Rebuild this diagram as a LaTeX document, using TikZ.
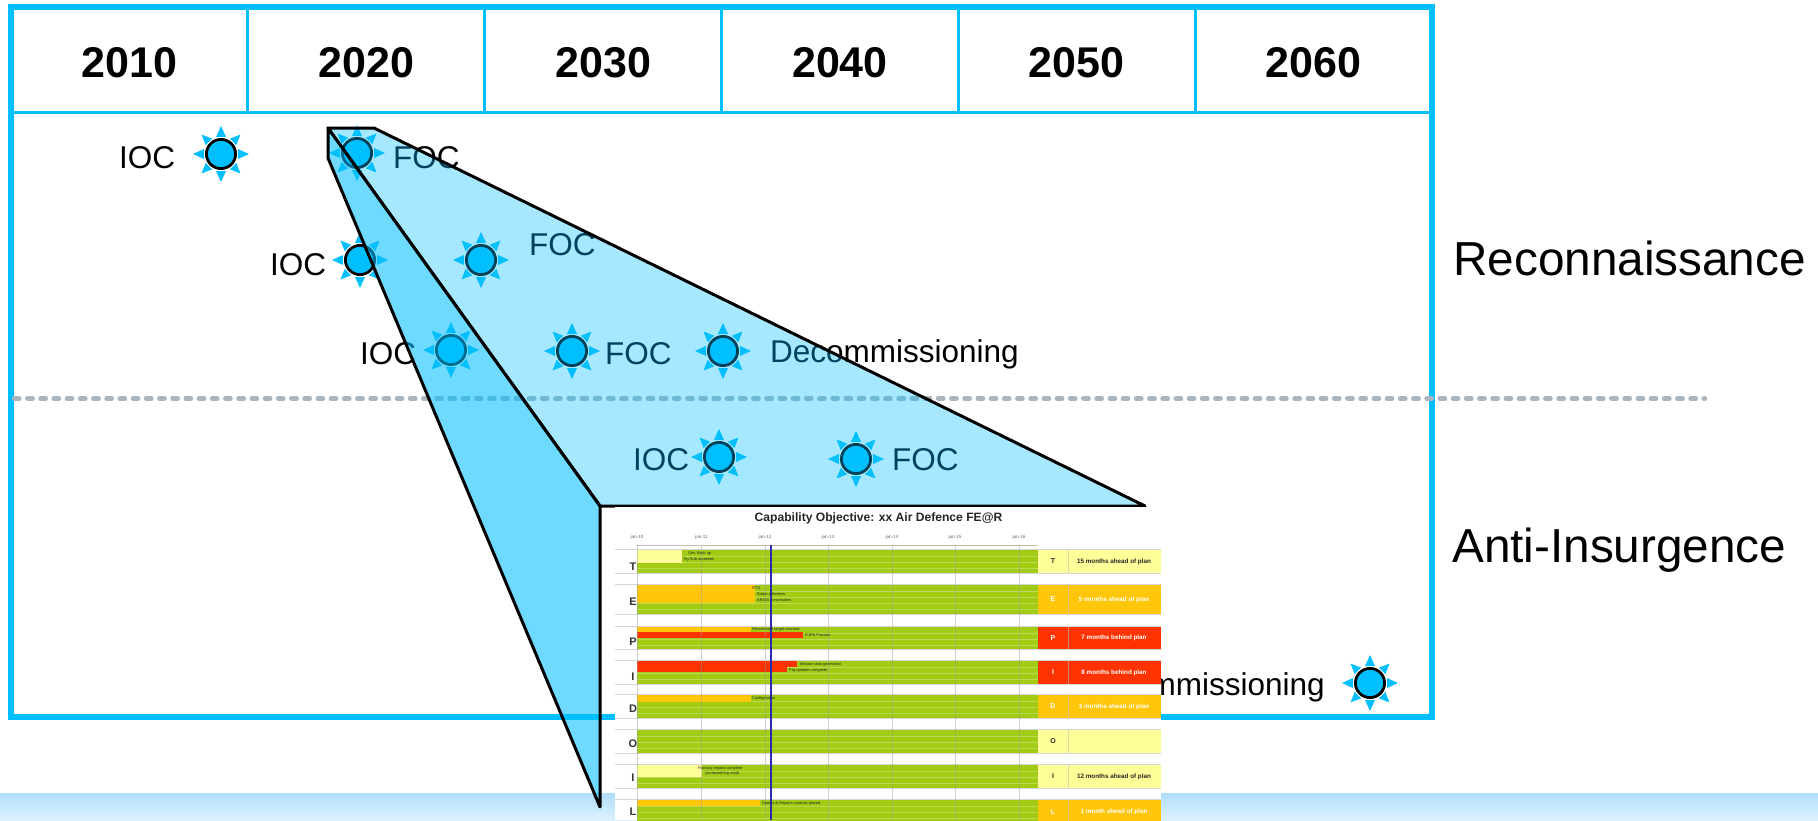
\documentclass[tikz,border=0pt]{standalone}
\usepackage{fontspec}
\setmainfont{Liberation Sans}
\definecolor{frameblue}{HTML}{00BFFF}
\definecolor{dashgray}{HTML}{ABB5BE}
\definecolor{bandtop}{HTML}{B0DEFB}
\definecolor{bandbot}{HTML}{DDF1FD}
\definecolor{ggreen}{HTML}{A2CB14}
\definecolor{gstripe}{HTML}{BBDB55}
\definecolor{gyellow}{HTML}{FFFF99}
\definecolor{gorange}{HTML}{FFC60A}
\definecolor{gred}{HTML}{FF3300}
\definecolor{ggray}{HTML}{D6D6D6}
\definecolor{gblue}{HTML}{2A2AB0}
\tikzset{
  x=1pt,y=-1pt,
  lbl/.style={anchor=base west,inner sep=0pt,text=black,font=\fontsize{31.5}{36}\selectfont},
  lblr/.style={lbl,anchor=base east},
  yearlbl/.style={anchor=base,inner sep=0pt,font=\bfseries\fontsize{43}{50}\selectfont},
  biglbl/.style={anchor=base west,inner sep=0pt,font=\fontsize{47.7}{54}\selectfont},
  glab/.style={anchor=west,inner sep=0pt,text=black!85,font=\fontsize{3.9}{4.5}\selectfont},
  gtick/.style={anchor=center,inner sep=0pt,text=black!60,font=\fontsize{4.6}{5}\selectfont},
  gletter/.style={anchor=center,inner sep=0pt,text=black!80,font=\bfseries\fontsize{11}{12}\selectfont},
  cellltr/.style={anchor=center,inner sep=0pt,font=\bfseries\fontsize{7}{8}\selectfont},
  celltxt/.style={anchor=center,inner sep=0pt,font=\bfseries\fontsize{6.3}{7}\selectfont},
  poly/.style={draw=black,line width=3pt,line join=round,fill=frameblue},
  sunshape/.pic={
    \foreach \a in {0,90,180,270}{
      \fill[frameblue,rotate=\a] (17,-5) -- (28,0) -- (17,5) -- cycle;
    }
    \foreach \a in {45,135,225,315}{
      \fill[frameblue,rotate=\a] (17,-4.6) -- (27.5,0) -- (17,4.6) -- cycle;
    }
    \fill[white] (0,0) circle[radius=17];
    \draw[black,line width=2.8pt,fill=frameblue] (0,0) circle[radius=14.6];
  }
}
% top, bottom, cell colour, letter, letter colour, cell text, letter y
\newcommand{\ganttrow}[7]{%
  \fill[ggreen] (637,#1) rectangle (1038,#2);
  \begin{scope}
    \clip (637,#1) rectangle (1038,#2);
    \foreach \s in {1,...,6}{\draw[gstripe,line width=0.8pt] (637,{#1+\s*6}) -- (1038,{#1+\s*6});}
  \end{scope}
  \fill[#3] (1038,#1) rectangle (1161,#2);
  \draw[black!25,line width=0.6pt,opacity=.6] (1068,#1) -- (1068,#2);
  \draw[ggray,line width=1.3pt] (615,{#1-.5}) -- (1161,{#1-.5});
  \draw[ggray,line width=1.3pt] (615,{#2+.5}) -- (1161,{#2+.5});
  \node[gletter] at (633,#7) {#4};
  \node[cellltr,text=#5] at (1053,{(#1+#2)/2}) {#4};
  \node[celltxt,text=#5] at (1114,{(#1+#2)/2}) {#6};
}
\begin{document}
\begin{tikzpicture}
\useasboundingbox (0,0) rectangle (1818,820);
\fill[white] (0,0) rectangle (1818,820);

% bottom band
\fill[top color=bandtop,bottom color=bandbot] (0,793) rectangle (1818,820);

% frame
\draw[frameblue,line width=3pt] (11,112.5) -- (1432,112.5);
\foreach \x in {247.8,484.7,721.5,958.3,1195.2}{\draw[frameblue,line width=3pt] (\x,7) -- (\x,112.5);}
\draw[frameblue,line width=6pt] (11,7) rectangle (1432,717);

% years
\node[yearlbl] (y2010) at (129.4,77) {2010};
\node[yearlbl] (y2020) at (366.2,77) {2020};
\node[yearlbl] (y2030) at (603.1,77) {2030};
\node[yearlbl] (y2040) at (840,77) {2040};
\node[yearlbl] (y2050) at (1076.8,77) {2050};
\node[yearlbl] (y2060) at (1313.6,77) {2060};

% side labels
\node[biglbl] (recon) at (1453,275) {Reconnaissance};
\node[biglbl] (anti) at (1452,562) {Anti-Insurgence};

% suns
\foreach \n/\x/\y in {1/221/154,2/357/153,3/360/260,4/481/260,5/451/350,6/572/351,7/723/351,8/719/457,9/856/459,10/1370/683}{
  \pic (sun\n) at (\x,\y) {sunshape};
}

% milestone labels
\node[lbl] (t1) at (119,168) {IOC};
\node[lbl] (t2) at (393,168) {FOC};
\node[lbl] (t3) at (270,275) {IOC};
\node[lbl] (t4) at (529,255) {FOC};
\node[lbl] (t5) at (360,364) {IOC};
\node[lbl] (t6) at (605,364) {FOC};
\node[lbl] (t7) at (770,362) {Decommissioning};
\node[lbl] (t8) at (633,470) {IOC};
\node[lbl] (t9) at (892,470) {FOC};
\node[lblr] (t10) at (1325,695) {Decommissioning};

% dashed divider
\coordinate (dashA) at (14,398.5);
\coordinate (dashB) at (1705,398.5);
\draw[dashgray,line width=4.2pt,line cap=round,dash pattern=on 5.5pt off 7.7pt] (dashA) -- (dashB);

% projection polygons
\coordinate (pA) at (328,128);
\coordinate (pB) at (374,128);
\coordinate (pC) at (1145,506);
\coordinate (pD) at (600,506);
\coordinate (pE) at (600,807);
\coordinate (pF) at (328,158);
\draw[poly,fill opacity=.35] (pA) -- (pB) -- (pC) -- (pD) -- cycle;
\draw[poly,fill opacity=.57] (pA) -- (pD) -- (pE) -- (pF) -- cycle;

% Gantt picture
\begin{scope}
\clip (615,507.5) rectangle (1161,820);
\fill[white] (615,507) rectangle (1161,820);
\node[anchor=center,inner sep=0pt,text=black!85,font=\bfseries\fontsize{12.1}{15}\selectfont] (gtitle) at (878.5,518.5) {Capability Objective: xx Air Defence FE@R};
\foreach \x/\lab in {637/jan-10,701.5/jan-11,765/jan-12,828/jan-13,892/jan-14,955/jan-15,1019/jan-16}{
  \node[gtick] at (\x,537) {\lab};
}
\draw[black!25,line width=.7pt] (637,545) -- (1038,545);
\ganttrow{550}{573}{gyellow}{T}{black!85}{15 months ahead of plan}{567}
\ganttrow{585}{614}{gorange}{E}{white}{5 months ahead of plan}{602}
\ganttrow{627}{649}{gred}{P}{white}{7 months behind plan}{642}
\ganttrow{661}{684}{gred}{I}{white}{8 months behind plan}{677}
\ganttrow{695}{718}{gorange}{D}{white}{3 months ahead of plan}{709}
\ganttrow{730}{753}{gyellow}{O}{black!85}{}{744}
\ganttrow{765}{788}{gyellow}{I}{black!85}{12 months ahead of plan}{778}
\ganttrow{800}{824}{gorange}{L}{white}{1 month ahead of plan}{812}
% status bars
\fill[gyellow] (637,550) rectangle (682,563);
\fill[gorange] (637,585) rectangle (755,603);
\fill[gorange] (637,627) rectangle (751,632);
\fill[gred] (637,632) rectangle (803,637.5);
\fill[gred] (637,661) rectangle (797,667);
\fill[gred] (637,667) rectangle (787,672);
\fill[gorange] (637,695) rectangle (751,702);
\fill[gyellow] (637,765) rectangle (702,777);
\fill[gorange] (637,800) rectangle (760,806);
% grid and today line
\foreach \x in {637,701.5,765,828,892,955,1019}{
  \draw[black!40,opacity=.45,line width=.9pt] (\x,545) -- (\x,820);
}
\draw[gblue,line width=1.6pt] (771,545) -- (771,820);
% bar labels
\node[glab] at (688,553) {Gen Work up};
\node[glab] at (683,559) {Trg Sub accepted};
\node[glab] at (752,588.5) {RTO};
\node[glab] at (757,594) {Radar deliveries};
\node[glab] at (757,600) {AR/OS conversions};
\node[glab] at (752,629) {Recruitment target reached};
\node[glab] at (805,635) {RJPB Process};
\node[glab] at (800,664) {Mission data generated};
\node[glab] at (789,670) {Prg updates complete};
\node[glab] at (752,698) {Configuration};
\node[glab] at (698,768) {Runway repairs complete};
\node[glab] at (705,773.5) {(surfaced/ring road)};
\node[glab] at (762,803) {Spares \& Repairs contract placed};
\end{scope}
\end{tikzpicture}
\end{document}
